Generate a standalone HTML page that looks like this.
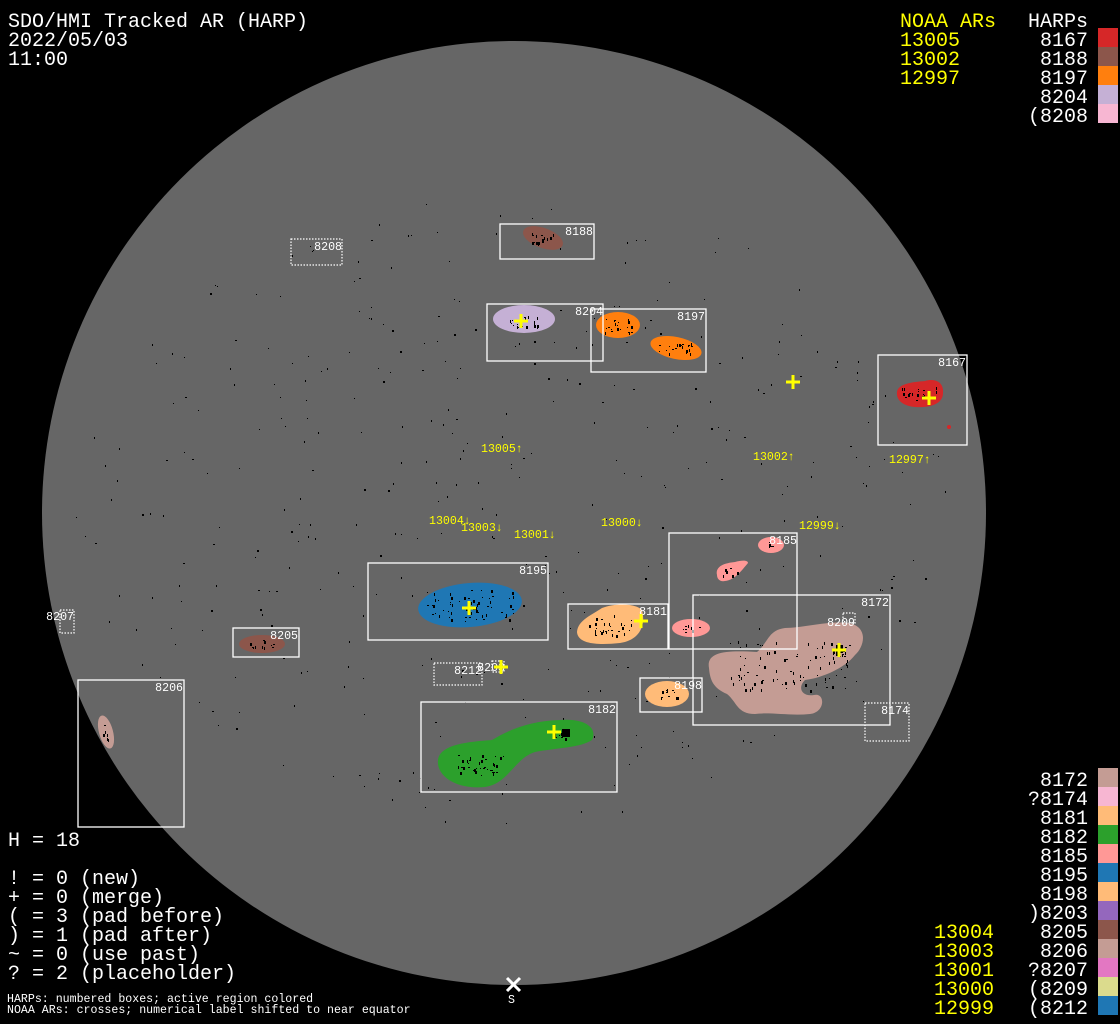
<!DOCTYPE html>
<html><head><meta charset="utf-8"><style>
html,body{margin:0;padding:0;background:#000;width:1120px;height:1024px;overflow:hidden}
svg{display:block}
.t{font-family:"Liberation Mono",monospace;font-size:20px;fill:#fff}
.y{fill:#ffff00}
.s{font-family:"Liberation Mono",monospace;font-size:11.6px;fill:#fff}
.sy{font-family:"Liberation Mono",monospace;font-size:11.6px;fill:#ffff00}
.b{fill:none;stroke:#fff;stroke-width:1.3}
.d{fill:none;stroke:#fff;stroke-width:1.2;stroke-dasharray:1.5 1.5}
.c{stroke:#ffff00;stroke-width:3}
</style></head><body>
<svg id="sv" width="1120" height="1024" viewBox="0 0 1120 1024" xmlns="http://www.w3.org/2000/svg">
<rect width="1120" height="1024" fill="#000"/>
<circle cx="514" cy="513" r="472" fill="#666"/>
<g id="dots"></g>
<ellipse cx="543" cy="238" rx="21" ry="10" fill="#8c564b" transform="rotate(20 543 238)"/>
<ellipse cx="524" cy="319" rx="31" ry="14" fill="#c5b0d5"/>
<ellipse cx="618" cy="325" rx="22" ry="13" fill="#ff7f0e"/>
<ellipse cx="676" cy="348" rx="26" ry="11" fill="#ff7f0e" transform="rotate(12 676 348)"/>
<path d="M897,392 C898,383 915,382 925,381 C935,378 944,382 943,393 C943,404 930,408 915,407 C903,406 896,400 897,392Z" fill="#d62728"/>
<circle cx="949" cy="427" r="2" fill="#d62728"/>
<ellipse cx="470" cy="605" rx="52" ry="22" fill="#1f77b4" transform="rotate(-5 470 605)"/>
<path d="M577,632 C578,620 592,615 602,608 C615,603 635,603 642,610 C646,625 640,640 620,643 C600,645 578,645 577,632Z" fill="#ffbb78"/>
<ellipse cx="771" cy="545" rx="13" ry="8" fill="#ff9896"/>
<path d="M717,575 C715,566 725,563 735,562 C742,560 748,560 748,563 C742,570 735,580 725,581 C720,582 717,579 717,575Z" fill="#ff9896"/>
<ellipse cx="691" cy="628" rx="19" ry="9" fill="#ff9896"/>
<path d="M709,668 C706,652 725,650 757,652 C768,643 768,630 785,628 C805,628 838,618 855,625 C868,632 863,648 855,655 C845,668 822,678 805,680 C797,688 802,697 814,695 C825,692 826,712 810,714 C790,716 770,712 755,714 C737,714 737,702 727,694 C713,688 710,680 709,668Z" fill="#c49c94"/>
<ellipse cx="667" cy="694" rx="22" ry="13" fill="#ffbb78"/>
<path d="M438,760 C440,745 465,742 492,740 C512,728 532,721 560,720 C585,718 598,728 592,740 C580,748 555,748 535,752 C515,758 508,784 485,787 C455,790 436,775 438,760Z" fill="#2ca02c"/>
<ellipse cx="262" cy="644" rx="23" ry="9" fill="#8c564b"/>
<ellipse cx="106" cy="732" rx="7" ry="17" fill="#c49c94" transform="rotate(-15 106 732)"/>
<g id="spots"></g>
<rect class="b" x="500" y="224" width="94" height="35"/>
<rect class="d" x="291" y="239" width="51" height="26"/>
<rect class="b" x="487" y="304" width="116" height="57"/>
<rect class="b" x="591" y="309" width="115" height="63"/>
<rect class="b" x="878" y="355" width="89" height="90"/>
<rect class="b" x="368" y="563" width="180" height="77"/>
<rect class="b" x="568" y="604" width="100" height="45"/>
<rect class="b" x="669" y="533" width="128" height="116"/>
<rect class="b" x="693" y="595" width="197" height="130"/>
<rect class="d" x="865" y="703" width="44" height="38"/>
<rect class="d" x="843" y="613" width="12" height="10"/>
<rect class="b" x="233" y="628" width="66" height="29"/>
<rect class="d" x="60" y="610" width="14" height="23"/>
<rect class="d" x="434" y="663" width="48" height="22"/>
<rect class="d" x="492" y="661" width="12" height="11"/>
<rect class="b" x="78" y="680" width="106" height="147"/>
<rect class="b" x="640" y="678" width="62" height="34"/>
<rect class="b" x="421" y="702" width="196" height="90"/>
<g class="s" text-anchor="end">
<text x="593" y="235">8188</text><text x="342" y="250">8208</text>
<text x="603" y="315">8204</text><text x="705" y="320">8197</text>
<text x="966" y="366">8167</text><text x="547" y="574">8195</text>
<text x="667" y="615">8181</text><text x="797" y="544">8185</text>
<text x="889" y="606">8172</text><text x="855" y="626">8209</text>
<text x="909" y="714">8174</text><text x="298" y="639">8205</text>
<text x="74" y="620">8207</text><text x="482" y="674">8212</text>
<text x="505" y="671">8203</text><text x="183" y="691">8206</text>
<text x="702" y="689">8198</text><text x="616" y="713">8182</text>
</g>
<g class="c">
<path d="M514,321h14M521,314v14"/><path d="M786,382h14M793,375v14"/>
<path d="M922,398h14M929,391v14"/><path d="M462,608h14M469,601v14"/>
<path d="M634,621h14M641,614v14"/><path d="M832,650h14M839,643v14"/>
<path d="M547,732h14M554,725v14"/><path d="M494,667h14M501,660v14"/>
</g>
<path d="M507,978l13,13M520,978l-13,13" stroke="#fff" stroke-width="3"/>
<text class="s" x="508" y="1003">S</text>
<g class="sy">
<text x="481" y="452">13005↑</text><text x="753" y="460">13002↑</text>
<text x="889" y="463">12997↑</text><text x="429" y="524">13004↓</text>
<text x="461" y="531">13003↓</text><text x="514" y="538">13001↓</text>
<text x="601" y="526">13000↓</text><text x="799" y="529">12999↓</text>
</g>
<g class="t">
<text x="8" y="27">SDO/HMI Tracked AR (HARP)</text>
<text x="8" y="46">2022/05/03</text>
<text x="8" y="65">11:00</text>
<text x="8" y="846">H = 18</text>
<text x="8" y="884">! = 0 (new)</text>
<text x="8" y="903">+ = 0 (merge)</text>
<text x="8" y="922">( = 3 (pad before)</text>
<text x="8" y="941">) = 1 (pad after)</text>
<text x="8" y="960">~ = 0 (use past)</text>
<text x="8" y="979">? = 2 (placeholder)</text>
</g>
<text class="s" x="7" y="1002">HARPs: numbered boxes; active region colored</text>
<text class="s" x="7" y="1013">NOAA ARs: crosses; numerical label shifted to near equator</text>
<g class="t y"><text x="900" y="27">NOAA ARs</text><text x="900" y="46">13005</text><text x="900" y="65">13002</text><text x="900" y="84">12997</text></g>
<g class="t" text-anchor="end"><text x="1088" y="27">HARPs</text><text x="1088" y="46">8167</text><text x="1088" y="65">8188</text><text x="1088" y="84">8197</text><text x="1088" y="103">8204</text><text x="1088" y="122">(8208</text></g>
<rect x="1098" y="28" width="20" height="19" fill="#d62728"/>
<rect x="1098" y="47" width="20" height="19" fill="#8c564b"/>
<rect x="1098" y="66" width="20" height="19" fill="#ff7f0e"/>
<rect x="1098" y="85" width="20" height="19" fill="#c5b0d5"/>
<rect x="1098" y="104" width="20" height="19" fill="#f7b6d2"/>
<g class="t y"><text x="934" y="938">13004</text><text x="934" y="957">13003</text><text x="934" y="976">13001</text><text x="934" y="995">13000</text><text x="934" y="1014">12999</text></g>
<g class="t" text-anchor="end">
<text x="1088" y="786">8172</text><text x="1088" y="805">?8174</text><text x="1088" y="824">8181</text><text x="1088" y="843">8182</text><text x="1088" y="862">8185</text><text x="1088" y="881">8195</text><text x="1088" y="900">8198</text><text x="1088" y="919">)8203</text><text x="1088" y="938">8205</text><text x="1088" y="957">8206</text><text x="1088" y="976">?8207</text><text x="1088" y="995">(8209</text><text x="1088" y="1014">(8212</text>
</g>
<rect x="1098" y="768" width="20" height="19" fill="#c49c94"/>
<rect x="1098" y="787" width="20" height="19" fill="#f7b6d2"/>
<rect x="1098" y="806" width="20" height="19" fill="#ffbb78"/>
<rect x="1098" y="825" width="20" height="19" fill="#2ca02c"/>
<rect x="1098" y="844" width="20" height="19" fill="#ff9896"/>
<rect x="1098" y="863" width="20" height="19" fill="#1f77b4"/>
<rect x="1098" y="882" width="20" height="19" fill="#ffbb78"/>
<rect x="1098" y="901" width="20" height="19" fill="#9467bd"/>
<rect x="1098" y="920" width="20" height="19" fill="#8c564b"/>
<rect x="1098" y="939" width="20" height="19" fill="#c49c94"/>
<rect x="1098" y="958" width="20" height="19" fill="#e377c2"/>
<rect x="1098" y="977" width="20" height="19" fill="#dbdb8d"/>
<rect x="1098" y="996" width="20" height="19" fill="#1f77b4"/>
</svg>
<script>
(function(){var s=12345;function r(){s=(s*1103515245+12345)%2147483648;return s/2147483648;}
var h='';
for(var i=0;i<420;i++){var a=r()*6.283,d=Math.sqrt(r())*440;var x=514+Math.cos(a)*d,y=513+Math.sin(a)*d*0.72;if(y<170||y>870)continue;
h+='<rect x="'+x.toFixed(0)+'" y="'+y.toFixed(0)+'" width="'+(r()<0.2?2:1)+'" height="'+(r()<0.4?2:1)+'" fill="#000"/>';}
document.getElementById('dots').innerHTML=h;
var regs=[[470,605,45,16,60],[520,790-28,0,0,0],[560,733,8,5,15],[480,765,25,10,40],[790,665,60,25,90],[838,650,6,5,12],[618,325,14,8,20],[676,348,18,6,20],[524,321,14,6,20],[920,394,18,7,20],[610,625,22,10,30],[667,694,12,5,12],[543,238,12,5,15],[262,644,14,4,12],[692,628,10,4,8],[730,572,8,4,6],[770,545,6,3,5],[106,732,3,10,6]];
var k='';regs.forEach(function(g){for(var j=0;j<g[4];j++){var x=g[0]+(r()*2-1)*g[2],y=g[1]+(r()*2-1)*g[3];k+='<rect x="'+x.toFixed(0)+'" y="'+y.toFixed(0)+'" width="'+(r()<0.4?2:1)+'" height="'+(r()<0.5?3:1)+'" fill="#000"/>';}});
k+='<rect x="836" y="645" width="7" height="8" fill="#000"/><rect x="562" y="729" width="8" height="8" fill="#000"/>';
document.getElementById('spots').innerHTML=k;})();
</script>
</body></html>
